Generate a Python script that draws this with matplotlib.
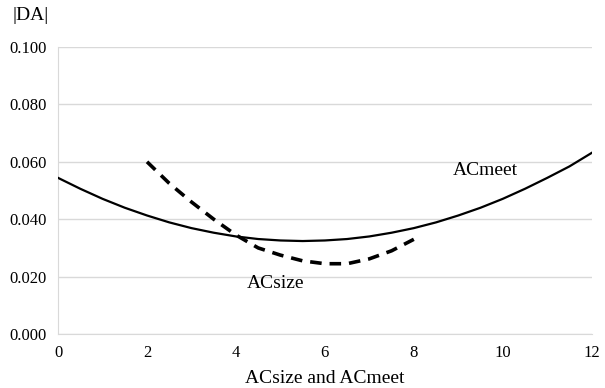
import numpy as np
import matplotlib.pyplot as plt

plt.rcParams['font.family'] = ['Liberation Serif', 'DejaVu Serif']

# ---------- dados ----------
x_meet = [0, 0.5, 1, 1.5, 2, 2.5, 3, 3.5, 4, 4.5, 5, 5.5, 6, 6.5, 7, 7.5, 8, 8.5, 9, 9.5, 10, 10.5, 11, 11.5, 12]
y_meet = [0.0544, 0.0506, 0.0471, 0.0440, 0.0413, 0.0389, 0.0369, 0.0353, 0.0340, 0.0331, 0.0326, 0.0324,
          0.0326, 0.0331, 0.0340, 0.0353, 0.0369, 0.0389, 0.0413, 0.0440, 0.0471, 0.0506, 0.0544, 0.0584, 0.0631]

x_size = [2, 2.5, 3, 3.5, 4, 4.5, 5, 5.5, 6, 6.5, 7, 7.5, 8]
y_size = [0.060, 0.0525, 0.0460, 0.0400, 0.0345, 0.0300, 0.0275, 0.0255, 0.0245, 0.0245, 0.0262, 0.0290, 0.0330]

xticks = [0, 2, 4, 6, 8, 10, 12]
yticks = [0.0, 0.02, 0.04, 0.06, 0.08, 0.10]

fig = plt.figure(figsize=(6.05, 3.88), dpi=100)
ax = fig.add_axes([0.096, 0.139, 0.882, 0.740])

ax.plot(x_meet, y_meet, color='black', lw=1.6, zorder=3)
ax.plot(x_size, y_size, color='black', lw=2.6, ls=(0, (3.2, 2.2)), zorder=3)

ax.set_xlim(0, 12)
ax.set_ylim(0, 0.1)
ax.set_xticks(xticks)
ax.set_yticks(yticks)
ax.set_yticklabels(["%.3f" % v for v in yticks])
ax.tick_params(length=0, labelsize=12, pad=8)
ax.grid(axis='y', color='#d9d9d9', lw=1, zorder=1)

for s in ['top', 'right']:
    ax.spines[s].set_visible(False)
for s in ['left', 'bottom']:
    ax.spines[s].set_color('#d9d9d9')

ax.text(9.6, 0.057, "ACmeet", fontsize=14, ha='center', va='center')
ax.text(4.9, 0.0175, "ACsize", fontsize=14, ha='center', va='center')
ax.set_xlabel("ACsize and ACmeet", fontsize=14, labelpad=6)
fig.text(0.05, 0.96, "|DA|", fontsize=14, ha='center', va='center')

fig.savefig("out.png", dpi=100)
